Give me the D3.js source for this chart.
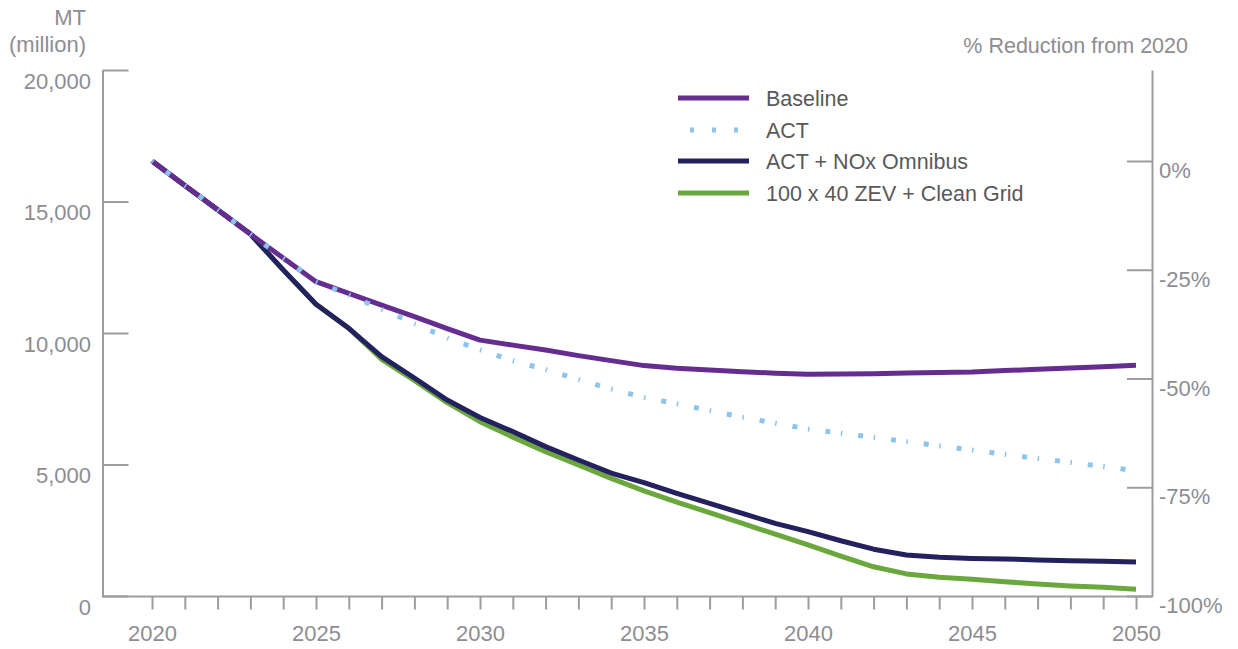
<!DOCTYPE html>
<html>
<head>
<meta charset="utf-8">
<script src="https://cdn.jsdelivr.net/npm/d3@7"></script>
<style>
    body { margin: 0; background: #fff; }
    svg { display: block; font-family: "Liberation Sans", Arial, sans-serif; }
    .axis text { fill: #8d8d92; font-size: 22px; }
    .axis line, .axis path { stroke: #9d9da1; stroke-width: 2; }
    .legend text { fill: #595959; font-size: 21.5px; }
</style>
</head>
<body>
<svg id="chart"></svg>
<script>
const years = d3.range(2020, 2051);
const baseline = [16540, 15610, 14690, 13760, 12850, 11950, 11510, 11060, 10620, 10170,
    9730, 9540, 9350, 9140, 8950, 8760, 8660, 8590, 8530, 8470,
    8430, 8440, 8450, 8480, 8500, 8520, 8570, 8620, 8670, 8720, 8770];
const act = [16540, 15610, 14690, 13760, 12850, 11950, 11450, 10900, 10360, 9810,
    9360, 8950, 8610, 8230, 7870, 7550, 7310, 7050, 6800, 6570,
    6350, 6190, 6030, 5870, 5710, 5550, 5390, 5230, 5080, 4920, 4765];
const actNox = [16540, 15610, 14690, 13760, 12400, 11090, 10180, 9100, 8290, 7450,
    6790, 6250, 5680, 5170, 4670, 4310, 3900, 3520, 3140, 2760,
    2450, 2100, 1780, 1560, 1470, 1430, 1410, 1370, 1340, 1320, 1290];
const zevGrid = [16540, 15610, 14690, 13760, 12400, 11090, 10180, 9000, 8200, 7350,
    6630, 6040, 5490, 4980, 4470, 4000, 3570, 3170, 2760, 2350,
    1940, 1520, 1110, 840, 710, 635, 545, 455, 380, 330, 255];

const leftTicks = [0, 5000, 10000, 15000, 20000];
const rightTicks = [0, -25, -50, -75, -100];
const labelYears = [2020, 2025, 2030, 2035, 2040, 2045, 2050];

const width = 1238;
const height = 649;
const svg = d3.select("#chart").attr("width", width).attr("height", height);

const x = d3.scaleLinear().domain([2020, 2050]).range([152, 1136]);
const y = d3.scaleLinear().domain([0, 20000]).range([596, 70]);
const yPct = d3.scaleLinear()
    .domain([-100, (20000 / baseline[0] - 1) * 100])
    .range([596, 70]);

// axes
const leftAxis = svg.append("g")
    .attr("class", "axis")
    .attr("transform", "translate(102.5,0)")
    .call(d3.axisLeft(y).tickValues(leftTicks).tickSizeInner(-26).tickSizeOuter(0)
        .tickPadding(11.5).tickFormat(d3.format(",")));
leftAxis.selectAll("text").attr("dy", "0.82em");

const rightAxis = svg.append("g")
    .attr("class", "axis")
    .attr("transform", "translate(1152,0)")
    .call(d3.axisRight(yPct).tickValues(rightTicks).tickSizeInner(-25).tickSizeOuter(0)
        .tickPadding(7).tickFormat(d => d + "%"));
rightAxis.selectAll("text").attr("dy", "0.76em");

svg.append("line")
    .attr("x1", 102).attr("x2", 1153)
    .attr("y1", 596.5).attr("y2", 596.5)
    .attr("stroke", "#9d9da1").attr("stroke-width", 2);

const bottomAxis = svg.append("g")
    .attr("class", "axis")
    .attr("transform", "translate(0,596.5)")
    .call(d3.axisBottom(x).tickValues(years).tickSize(13).tickPadding(16)
        .tickFormat(d => labelYears.includes(d) ? d : ""));
bottomAxis.select(".domain").remove();

// axis titles
const titles = svg.append("g").attr("class", "axis");
titles.append("text").attr("x", 86).attr("y", 25).attr("text-anchor", "end").text("MT");
titles.append("text").attr("x", 86).attr("y", 52).attr("text-anchor", "end").text("(million)");
titles.append("text").attr("x", 1188).attr("y", 53).attr("text-anchor", "end")
    .style("font-size", "21.5px").text("% Reduction from 2020");

// series
const series = [
    { name: "Baseline", values: baseline, color: "#662d91", dotted: false },
    { name: "ACT", values: act, color: "#8ec4ea", dotted: true },
    { name: "ACT + NOx Omnibus", values: actNox, color: "#23215e", dotted: false },
    { name: "100 x 40 ZEV + Clean Grid", values: zevGrid, color: "#6aa73d", dotted: false }
];
const drawOrder = [series[3], series[2], series[0], series[1]];

const line = d3.line()
    .x(d => x(d.year))
    .y(d => y(d.value));

drawOrder.forEach(s => {
    const pts = years.map((yr, i) => ({ year: yr, value: s.values[i] }));
    if (s.dotted) {
        // each yearly segment gets its own dash pattern, like the source
        const segs = d3.pairs(pts);
        svg.append("g").selectAll("path")
            .data(segs)
            .enter()
            .append("path")
            .attr("d", line)
            .attr("fill", "none")
            .attr("stroke", s.color)
            .attr("stroke-width", 5)
            .attr("stroke-dasharray", "1.5,16,5,40");
    } else {
        svg.append("path")
            .datum(pts)
            .attr("d", line)
            .attr("fill", "none")
            .attr("stroke", s.color)
            .attr("stroke-width", 5)
            .attr("stroke-linejoin", "round");
    }
});

// legend
const legendY = [98, 130, 161, 193];
const legend = svg.append("g").attr("class", "legend");
series.forEach((s, i) => {
    legend.append("line")
        .attr("x1", 678).attr("x2", 749)
        .attr("y1", legendY[i]).attr("y2", legendY[i])
        .attr("stroke", s.color)
        .attr("stroke-width", 5)
        .attr("stroke-dasharray", s.dotted ? "4,18" : null)
        .attr("stroke-dashoffset", s.dotted ? -12 : null);
    legend.append("text")
        .attr("x", 766)
        .attr("y", legendY[i])
        .attr("dy", "0.36em")
        .text(s.name);
});
</script>
</body>
</html>
